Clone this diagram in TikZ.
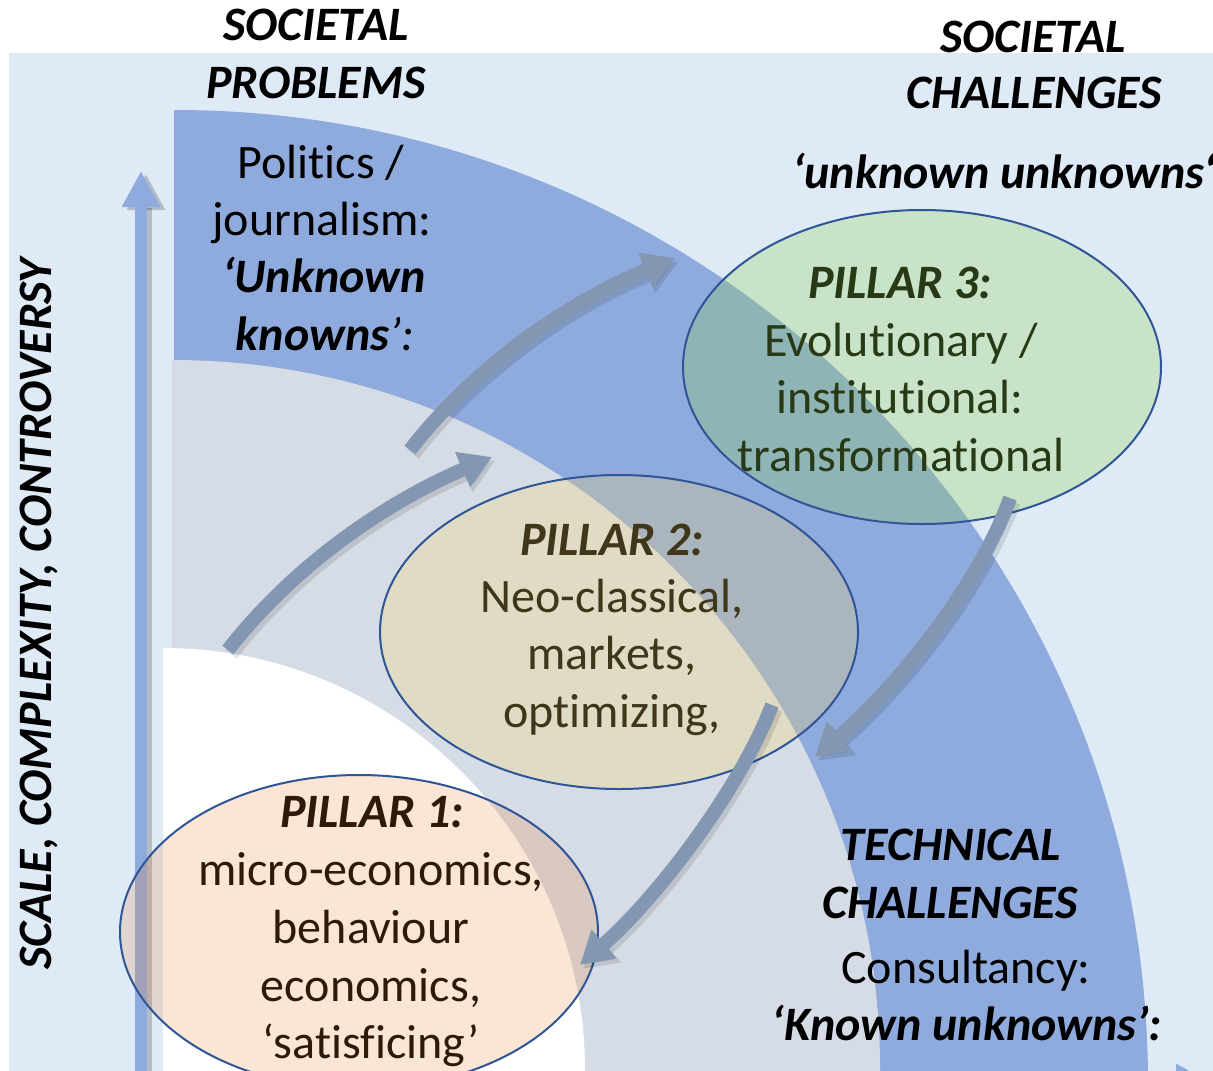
\documentclass[tikz,border=0pt]{standalone}
\usepackage{fontspec}
\setmainfont{Carlito}[Ligatures=NoCommon]
\usetikzlibrary{shapes.geometric,arrows.meta}
\definecolor{bgblue}{RGB}{222,235,247}
\definecolor{bandblue}{RGB}{143,170,220}
\definecolor{bandgrey}{RGB}{214,220,229}
\definecolor{arrowc}{RGB}{131,151,178}
\definecolor{ellline}{RGB}{47,85,151}
\definecolor{ponefill}{RGB}{237,125,49}
\definecolor{ptwofill}{RGB}{255,217,102}
\definecolor{pthreefill}{RGB}{146,208,80}
\begin{document}
\begin{tikzpicture}[x=1pt,y=-1pt,
  txt/.style={font=\fontsize{48}{58}\selectfont, inner sep=0pt, anchor=base},
  bi/.style={txt, font=\fontsize{48}{58}\selectfont\bfseries\itshape},
  pillar/.style={ellipse, draw=ellline, line width=2pt, minimum width=478pt, minimum height=314pt, inner sep=0pt},
  curvarrow/.style={draw=arrowc, line width=14pt, -{Triangle[width=36pt,length=32pt]}},
  curvshadow/.style={draw=black, opacity=0.11, line width=15pt, -{Triangle[width=38pt,length=33pt]}, transform canvas={xshift=3pt,yshift=-4pt}},
  axisarrow/.style={draw=bandblue, line width=12pt, -{Triangle[width=36pt,length=36pt]}},
  axisshadow/.style={draw=black, opacity=0.2, line width=12pt, -{Triangle[width=36pt,length=36pt]}, transform canvas={xshift=5pt,yshift=-3pt}},
]
\useasboundingbox (0,0) rectangle (1213,1071);
\clip (0,0) rectangle (1213,1071);
% background
\fill[white] (0,0) rectangle (1213,1071);
\fill[bgblue] (9,53) rectangle (1213,1071);
% bands
\begin{scope}
  \clip (174,0) rectangle (1213,1071);
  \fill[bandblue] (175,1083) circle[radius=973pt];
\end{scope}
\begin{scope}
  \clip (172,0) rectangle (1213,1071);
  \fill[bandgrey] (172,1068) circle[radius=708pt];
\end{scope}
\begin{scope}
  \clip (163,0) rectangle (1213,1071);
  \fill[white] (163,1070) circle[radius=422pt];
\end{scope}
% axis arrows
\coordinate (vb) at (141,1095);
\coordinate (vt) at (141,171);
\coordinate (hl) at (300,1083);
\coordinate (hr) at (1212,1083);
\draw[axisshadow] (vb) -- (vt);
\draw[axisarrow] (vb) -- (vt);
\draw[axisarrow] (hl) -- (hr);
% headers
\node[bi] (sp1) at (316,40) {SOCIETAL};
\node[bi] (sp2) at (316,98) {PROBLEMS};
\node[bi] (sc1) at (1033,52) {SOCIETAL};
\node[bi] (sc2) at (1034,108) {CHALLENGES};
\node[bi, anchor=base west] (uu) at (792,188) {‘unknown unknowns‘};
\node[bi, rotate=90] (axislabel) at (51,614) {SCALE, COMPLEXITY, CONTROVERSY};
% politics
\node[txt] (pj1) at (321,178) {Politics /};
\node[txt] (pj2) at (322,235) {journalism:};
\node[bi] (pj3) at (324,292) {‘Unknown};
\node[txt] (pj4) at (325,350) {{\bfseries\itshape knowns}{\itshape ’:}};
% technical
\node[bi] (tc1) at (951,860) {TECHNICAL};
\node[bi] (tc2) at (950,918) {CHALLENGES};
\node[txt] (tc3) at (966,983) {Consultancy:};
\node[bi] (tc4) at (967,1040) {‘Known unknowns’:};
% pillar 3
\node[bi] (p3a) at (900,298) {PILLAR 3:};
\node[txt] (p3b) at (901,356) {Evolutionary /};
\node[txt] (p3c) at (900,413) {institutional:};
\node[txt] (p3d) at (901,471) {transformational};
% pillar 2
\node[bi] (p2a) at (612,555) {PILLAR 2:};
\node[txt] (p2b) at (612,612) {Neo-classical,};
\node[txt] (p2c) at (612,669) {markets,};
\node[txt] (p2d) at (612,727) {optimizing,};
% pillar 1
\node[bi] (p1a) at (372,827) {PILLAR 1:};
\node[txt] (p1b) at (371,885) {micro-economics,};
\node[txt] (p1c) at (371,943) {behaviour};
\node[txt] (p1d) at (371,1001) {economics,};
\node[txt] (p1e) at (371,1058) {‘satisficing’};
% ellipses
\node[pillar, fill=pthreefill, fill opacity=0.28] (pillar3) at (922,367) {};
\node[pillar, fill=ptwofill, fill opacity=0.25] (pillar2) at (619,632) {};
\node[pillar, fill=ponefill, fill opacity=0.2] (pillar1) at (359,932) {};
% curved arrows
\coordinate (a1s) at (228,650);
\coordinate (a1e) at (492,457);
\coordinate (a2s) at (410,450);
\coordinate (a2e) at (675,258);
\coordinate (a3s) at (1010,498);
\coordinate (a3e) at (815,757);
\coordinate (a4s) at (772,705);
\coordinate (a4e) at (580,965);
\draw[curvshadow] (a1s) .. controls (290,570) and (380,505) .. (a1e);
\draw[curvshadow] (a2s) .. controls (472,370) and (562,305) .. (a2e);
\draw[curvshadow] (a3s) .. controls (980,583) and (900,684) .. (a3e);
\draw[curvshadow] (a4s) .. controls (742,785) and (660,895) .. (a4e);
\draw[curvarrow] (a1s) .. controls (290,570) and (380,505) .. (a1e);
\draw[curvarrow] (a2s) .. controls (472,370) and (562,305) .. (a2e);
\draw[curvarrow] (a3s) .. controls (980,583) and (900,684) .. (a3e);
\draw[curvarrow] (a4s) .. controls (742,785) and (660,895) .. (a4e);
\end{tikzpicture}
\end{document}
